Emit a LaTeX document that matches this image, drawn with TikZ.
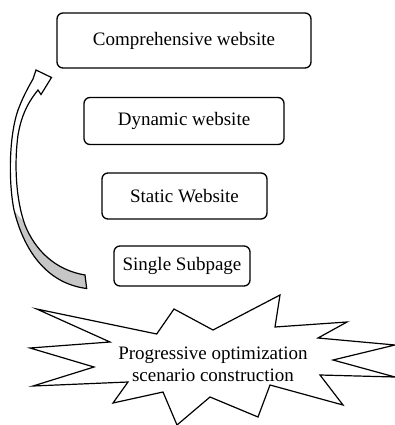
\documentclass[tikz,border=0pt]{standalone}
\usepackage{fontspec}
\setmainfont{Liberation Serif}
\begin{document}
\begin{tikzpicture}[x=1pt,y=-1pt,
  stage/.style={draw, line width=1.3pt, rounded corners=6pt, inner sep=0pt,
    font=\fontsize{19}{22}\selectfont},
  bursttext/.style={align=center, inner sep=0pt, font=\fontsize{19}{22}\selectfont},
  outline/.style={line width=1.2pt, line join=miter}]
\useasboundingbox (0,0) rectangle (395,425);

% stages of the construction
\node[stage, minimum width=254pt, minimum height=55pt] (comp) at (184,40.5) {Comprehensive website};
\node[stage, minimum width=200pt, minimum height=47pt] (dyn) at (184,121) {Dynamic website};
\node[stage, minimum width=165pt, minimum height=46pt] (stat) at (184.5,196) {Static Website};
\node[stage, minimum width=136pt, minimum height=40pt] (single) at (182,266) {Single Subpage};

% starburst
\draw[outline, fill=white]
  (36.7,309) -- (156.7,334) -- (174,309) -- (213,330) -- (280,295) -- (275,327)
  -- (347,322) -- (318,338) -- (395,345) -- (333,360) -- (395,377) -- (320,375)
  -- (343,405) -- (270,385) -- (258,417) -- (210,397) -- (177,425) -- (163,392)
  -- (113,403) -- (128,382) -- (33,386) -- (94,367) -- (30,348) -- (110,342) -- cycle;
\node[bursttext] (burst) at (213,364) {Progressive optimization\\scenario construction};

% curved block arrow rising towards the top stage
\def\arrowpath{(86.7,288.5) .. controls (50,284) and (25,255) .. (14,210)
  .. controls (8,180) and (9,130) .. (20,105)
  .. controls (24,95) and (29,86) .. (33,79)
  -- (36,70) -- (51.5,77.5) -- (41,94.5) -- (38,90)
  .. controls (30,100) and (22,112) .. (18,135)
  .. controls (14,165) and (16,200) .. (25,225)
  .. controls (35,250) and (55,270) .. (85,275) -- cycle}
\fill[white] \arrowpath;
\begin{scope}
  \clip (0,195) -- (40,240) -- (120,240) -- (120,300) -- (0,300) -- cycle;
  \fill[gray!45] \arrowpath;
\end{scope}
\draw[outline] \arrowpath;
\end{tikzpicture}
\end{document}
